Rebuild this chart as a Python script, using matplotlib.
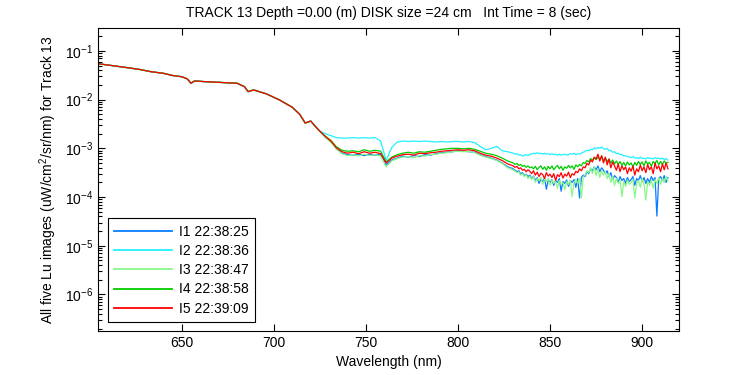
import numpy as np
import matplotlib
matplotlib.use("Agg")
import matplotlib.pyplot as plt
from matplotlib.ticker import FixedLocator, NullFormatter

plt.rcParams['font.family'] = ['Liberation Sans', 'DejaVu Sans']
plt.rcParams['mathtext.fontset'] = 'custom'
plt.rcParams['mathtext.rm'] = 'Liberation Sans'
plt.rcParams['mathtext.it'] = 'Liberation Sans'

# wavelength grid (nm)
wl_a = [605, 612, 620, 627, 633, 640, 645, 650, 653, 655, 657, 662, 669, 675,
        680, 684, 686, 689, 696, 703, 710, 714, 717, 720, 723, 725]
wl_b = list(range(728, 828, 3))
wl_c = list(range(830, 915))
wavelength = np.array(wl_a + wl_b + wl_c)

# log10(Lu); all five coincide below ~725 nm
log_common = [-1.265, -1.30, -1.342, -1.38, -1.425, -1.46, -1.505, -1.53, -1.575,
              -1.664, -1.616, -1.63, -1.643, -1.655, -1.664, -1.733, -1.836, -1.801,
              -1.883, -2.006, -2.157, -2.30, -2.48, -2.44, -2.57, -2.65]

log_i1_b = [-2.77, -2.87, -3.01, -3.10, -3.13, -3.14, -3.12, -3.15, -3.12, -3.14,
            -3.12, -3.34, -3.24, -3.20, -3.16, -3.18, -3.15, -3.17, -3.13, -3.14,
            -3.11, -3.09, -3.08, -3.07, -3.05, -3.06, -3.07, -3.08, -3.13, -3.17,
            -3.20, -3.24, -3.30, -3.38]
log_i1_c = [-3.42, -3.45, -3.48, -3.46, -3.52, -3.50, -3.56, -3.53, -3.58, -3.55,
            -3.62, -3.57, -3.66, -3.60, -3.72, -3.63, -3.68, -3.61, -3.84, -3.65,
            -3.70, -3.64, -3.76, -3.66, -3.70, -3.62, -3.88, -3.68, -3.72, -3.65,
            -3.78, -3.66, -3.70, -3.64, -3.80, -3.62, -4.02, -3.60, -3.55, -3.58,
            -3.48, -3.52, -3.42, -3.46, -3.38, -3.44, -3.36, -3.48, -3.40, -3.45,
            -3.52, -3.46, -3.58, -3.50, -3.64, -3.56, -3.60, -3.70, -3.58, -3.66,
            -3.62, -3.72, -3.60, -3.68, -3.64, -3.58, -3.76, -3.62, -3.66, -3.56,
            -3.68, -3.60, -3.72, -3.62, -3.70, -3.58, -3.66, -3.60, -4.39, -3.62,
            -3.58, -3.66, -3.56, -3.70, -3.60]

log_i2_b = [-2.70, -2.74, -2.78, -2.79, -2.79, -2.78, -2.79, -2.78, -2.79, -2.78,
            -2.85, -3.25, -2.98, -2.87, -2.85, -2.86, -2.85, -2.86, -2.85, -2.86,
            -2.87, -2.86, -2.87, -2.86, -2.86, -2.87, -2.86, -2.88, -2.96, -3.03,
            -3.00, -2.96, -3.05, -3.07]
log_i2_c = [-3.10, -3.12, -3.11, -3.14, -3.13, -3.16, -3.14, -3.13, -3.15, -3.12,
            -3.12, -3.10, -3.11, -3.09, -3.11, -3.10, -3.12, -3.10, -3.12, -3.11,
            -3.13, -3.11, -3.13, -3.12, -3.14, -3.12, -3.14, -3.13, -3.12, -3.14,
            -3.13, -3.11, -3.12, -3.10, -3.13, -3.11, -3.12, -3.10, -3.08, -3.06,
            -3.04, -3.05, -3.02, -3.03, -2.99, -3.01, -2.98, -3.00, -2.97, -3.01,
            -3.02, -3.00, -3.05, -3.04, -3.08, -3.07, -3.11, -3.10, -3.13, -3.12,
            -3.16, -3.15, -3.17, -3.18, -3.19, -3.17, -3.20, -3.19, -3.21, -3.18,
            -3.21, -3.20, -3.22, -3.19, -3.21, -3.20, -3.22, -3.19, -3.21, -3.20,
            -3.22, -3.20, -3.23, -3.21, -3.24]

log_i3_b = [-2.78, -2.88, -3.02, -3.11, -3.15, -3.13, -3.16, -3.12, -3.15, -3.13,
            -3.16, -3.38, -3.26, -3.21, -3.18, -3.17, -3.19, -3.15, -3.16, -3.13,
            -3.12, -3.10, -3.09, -3.07, -3.06, -3.07, -3.06, -3.09, -3.14, -3.18,
            -3.21, -3.25, -3.31, -3.40]
log_i3_c = [-3.44, -3.47, -3.50, -3.48, -3.55, -3.52, -3.58, -3.54, -3.62, -3.57,
            -3.64, -3.58, -3.70, -3.62, -3.66, -3.60, -3.74, -3.63, -3.68, -3.62,
            -3.76, -3.65, -3.72, -3.67, -3.82, -3.66, -3.74, -3.70, -3.85, -3.68,
            -3.74, -3.66, -3.99, -3.70, -3.64, -3.72, -3.62, -4.02, -3.58, -3.55,
            -3.46, -3.50, -3.40, -3.52, -3.38, -3.56, -3.42, -3.60, -3.46, -3.55,
            -3.48, -3.62, -3.52, -3.70, -3.58, -3.76, -3.62, -3.72, -3.66, -3.99,
            -3.68, -3.78, -3.65, -3.74, -3.70, -3.64, -4.02, -3.72, -3.66, -3.80,
            -3.62, -3.74, -4.06, -3.68, -3.76, -3.66, -3.82, -3.64, -3.72, -3.60,
            -3.74, -3.62, -3.70, -3.58, -3.66]

log_i4_b = [-2.75, -2.84, -2.97, -3.04, -3.06, -3.05, -3.07, -3.03, -3.06, -3.04,
            -3.06, -3.28, -3.18, -3.13, -3.10, -3.08, -3.10, -3.07, -3.08, -3.06,
            -3.04, -3.02, -3.01, -3.00, -3.00, -3.01, -3.00, -3.02, -3.06, -3.10,
            -3.12, -3.15, -3.20, -3.26]
log_i4_c = [-3.30, -3.33, -3.31, -3.35, -3.33, -3.37, -3.35, -3.39, -3.36, -3.40,
            -3.38, -3.42, -3.37, -3.44, -3.39, -3.36, -3.43, -3.38, -3.45, -3.37,
            -3.42, -3.36, -3.44, -3.39, -3.35, -3.42, -3.37, -3.45, -3.38, -3.41,
            -3.35, -3.40, -3.36, -3.43, -3.34, -3.38, -3.33, -3.36, -3.29, -3.31,
            -3.25, -3.28, -3.21, -3.24, -3.19, -3.23, -3.18, -3.22, -3.17, -3.25,
            -3.20, -3.27, -3.22, -3.30, -3.24, -3.32, -3.26, -3.33, -3.27, -3.35,
            -3.29, -3.36, -3.28, -3.34, -3.30, -3.38, -3.29, -3.35, -3.27, -3.33,
            -3.28, -3.36, -3.26, -3.32, -3.29, -3.37, -3.27, -3.31, -3.25, -3.34,
            -3.27, -3.33, -3.26, -3.31, -3.29]

log_i5_b = [-2.76, -2.85, -2.99, -3.07, -3.10, -3.08, -3.11, -3.07, -3.10, -3.08,
            -3.11, -3.30, -3.20, -3.16, -3.13, -3.12, -3.14, -3.10, -3.11, -3.09,
            -3.08, -3.06, -3.05, -3.04, -3.03, -3.04, -3.03, -3.05, -3.10, -3.14,
            -3.16, -3.20, -3.25, -3.32]
log_i5_c = [-3.36, -3.39, -3.37, -3.42, -3.40, -3.45, -3.43, -3.48, -3.44, -3.47,
            -3.52, -3.46, -3.55, -3.49, -3.58, -3.51, -3.54, -3.62, -3.50, -3.57,
            -3.53, -3.60, -3.52, -3.66, -3.54, -3.58, -3.50, -3.61, -3.53, -3.57,
            -3.49, -3.60, -3.52, -3.55, -3.47, -3.50, -3.42, -3.46, -3.38, -3.40,
            -3.31, -3.34, -3.24, -3.28, -3.18, -3.22, -3.12, -3.26, -3.15, -3.30,
            -3.18, -3.34, -3.22, -3.40, -3.28, -3.36, -3.45, -3.32, -3.48, -3.36,
            -3.44, -3.38, -3.52, -3.40, -3.47, -3.36, -3.55, -3.42, -3.48, -3.34,
            -3.46, -3.38, -3.50, -3.33, -3.44, -3.38, -3.52, -3.30, -3.42, -3.36,
            -3.48, -3.32, -3.44, -3.30, -3.42]

labels = ["I1 22:38:25", "I2 22:38:36", "I3 22:38:47", "I4 22:38:58", "I5 22:39:09"]
colors = ["#0a7cff", "#22f0ff", "#88f888", "#00cc00", "#ff0000"]
series = [log_common + log_i1_b + log_i1_c,
          log_common + log_i2_b + log_i2_c,
          log_common + log_i3_b + log_i3_c,
          log_common + log_i4_b + log_i4_c,
          log_common + log_i5_b + log_i5_c]

fig = plt.figure(figsize=(7.5, 3.75), dpi=100)
ax = fig.add_axes([0.1307, 0.1173, 0.7746, 0.808])

for logv, c, lab in zip(series, colors, labels):
    ax.semilogy(wavelength, 10 ** np.array(logv), color=c, lw=0.9, label=lab)

ax.set_xlim(604.5, 920)
ax.set_ylim(10 ** -6.75, 10 ** -0.53)
ax.xaxis.set_major_locator(FixedLocator([650, 700, 750, 800, 850, 900]))
ax.yaxis.set_major_locator(FixedLocator([1e-6, 1e-5, 1e-4, 1e-3, 1e-2, 1e-1]))
minor = [m * 10.0 ** e for e in range(-7, 0) for m in range(2, 10)]
ax.yaxis.set_minor_locator(FixedLocator(minor))
ax.yaxis.set_minor_formatter(NullFormatter())
ax.tick_params(which='both', direction='in', top=True, right=True, labelsize=10, width=0.8)
ax.tick_params(which='major', length=5)
ax.tick_params(which='minor', length=3)
for s in ax.spines.values():
    s.set_linewidth(0.8)

ax.set_title("TRACK 13 Depth =0.00 (m) DISK size =24 cm   Int Time = 8 (sec)",
             fontsize=10, pad=8)
ax.set_xlabel("Wavelength (nm)", fontsize=10, labelpad=4)
ax.set_ylabel("All five Lu images (uW/cm$^2$/sr/nm) for Track 13", fontsize=10, labelpad=4)

leg = ax.legend(loc='lower left', bbox_to_anchor=(0.017, 0.03), borderaxespad=0,
                fontsize=10, handlelength=4.2, handletextpad=0.45, labelspacing=0.38,
                borderpad=0.45, fancybox=False, framealpha=1, edgecolor='black')
leg.get_frame().set_linewidth(0.8)
for h in leg.get_lines():
    h.set_linewidth(1.3)

fig.savefig("out.png", dpi=100)
